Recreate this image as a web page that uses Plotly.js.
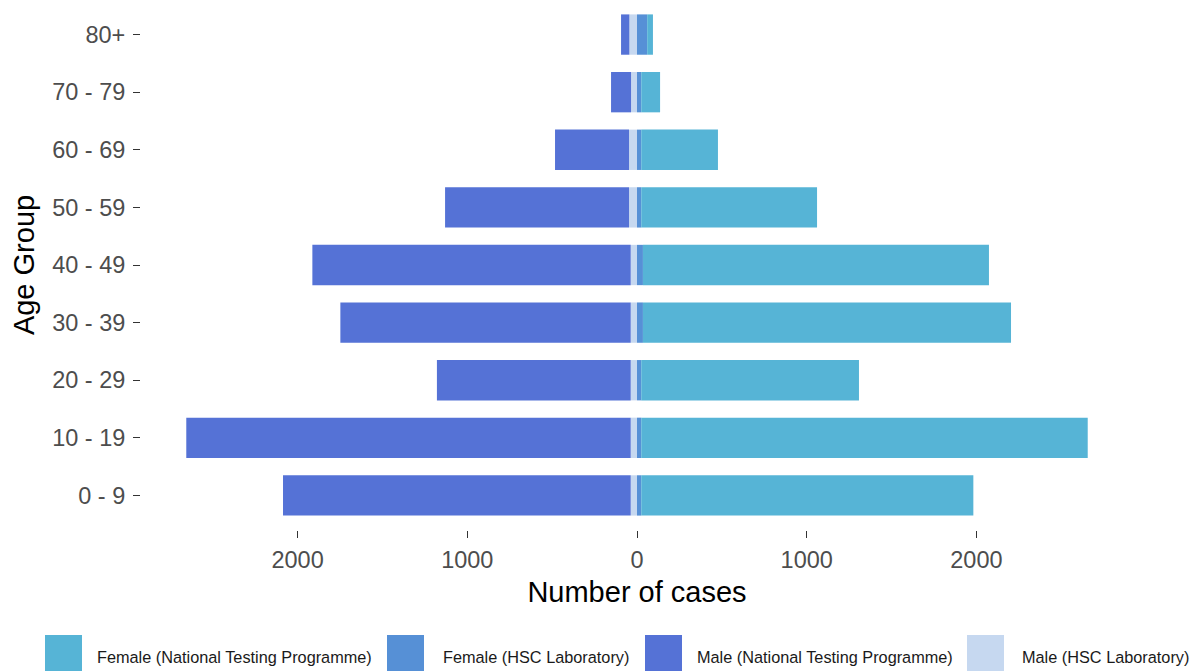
<!DOCTYPE html>
<html>
<head>
<meta charset="utf-8">
<script src="https://cdn.plot.ly/plotly-3.0.1.min.js"></script>
<style>
  html, body { margin: 0; padding: 0; background: #ffffff; }
  #chart { width: 1201px; height: 671px; }
</style>
</head>
<body>
<div id="chart"></div>
<script>
// ---- Data ----
const ageGroups = ['0 - 9', '10 - 19', '20 - 29', '30 - 39', '40 - 49', '50 - 59', '60 - 69', '70 - 79', '80+'];
const maleNTP   = [2049, 2619, 1142, 1711, 1876, 1084, 436, 118, 49];
const maleHSC   = [37, 37, 37, 37, 37, 47, 47, 35, 45];
const femaleNTP = [1957, 2631, 1283, 2169, 2039, 1036, 452, 111, 34];
const femaleHSC = [25, 25, 25, 35, 35, 25, 25, 25, 60];
const xTickVals = [-2000, -1000, 0, 1000, 2000];
const xTickText = ['2000', '1000', '0', '1000', '2000'];
const seriesNames = ['Female (National Testing Programme)', 'Female (HSC Laboratory)', 'Male (National Testing Programme)', 'Male (HSC Laboratory)'];

// ---- Styles ----
const colors = {
  femaleNTP: '#56B4D6',
  femaleHSC: '#5690D6',
  maleNTP:   '#5572D6',
  maleHSC:   '#C6D8F0'
};
const legendColors = [colors.femaleNTP, colors.femaleHSC, colors.maleNTP, colors.maleHSC];
const FONT = '"Liberation Sans", Arial, sans-serif';

const W = 1201, H = 671;
const M = { l: 141, r: 68, t: 0, b: 141 };
const plotW = W - M.l - M.r;
const plotH = H - M.t - M.b;
const pxToPaperX = px => (px - M.l) / plotW;
const pxToPaperY = py => 1 - (py - M.t) / plotH;

function bar(name, xs, color) {
  return {
    type: 'bar',
    orientation: 'h',
    name: name,
    y: ageGroups,
    x: xs,
    width: 0.7,
    marker: { color: color, line: { width: 0 } },
    showlegend: false,
    hoverinfo: 'name+y'
  };
}

const traces = [
  bar(seriesNames[3], maleHSC.map(v => -v), colors.maleHSC),
  bar(seriesNames[2], maleNTP.map(v => -v), colors.maleNTP),
  bar(seriesNames[1], femaleHSC, colors.femaleHSC),
  bar(seriesNames[0], femaleNTP, colors.femaleNTP)
];

// ---- Custom legend (large keys as in the reference) ----
const legendKeyX = [45, 387, 645, 967];
const legendTextX = [95, 441, 695, 1020];
const keySize = 37, keyTop = 635, legendTextY = 657;
const shapes = [];
const annotations = [];
seriesNames.forEach((nm, i) => {
  shapes.push({
    type: 'rect', xref: 'paper', yref: 'paper',
    x0: pxToPaperX(legendKeyX[i]), x1: pxToPaperX(legendKeyX[i] + keySize),
    y0: pxToPaperY(keyTop + keySize), y1: pxToPaperY(keyTop),
    fillcolor: legendColors[i], line: { width: 0 }
  });
  annotations.push({
    xref: 'paper', yref: 'paper',
    x: pxToPaperX(legendTextX[i]), y: pxToPaperY(legendTextY),
    xanchor: 'left', yanchor: 'middle',
    text: nm, showarrow: false,
    font: { family: FONT, size: 16.3, color: '#1a1a1a' }
  });
});

const xHalf = (plotW / 2) / 0.1697;

const layout = {
  width: W, height: H,
  margin: M,
  paper_bgcolor: '#ffffff',
  plot_bgcolor: '#ffffff',
  barmode: 'relative',
  bargap: 0.3,
  showlegend: false,
  font: { family: FONT, color: '#4D4D4D' },
  xaxis: {
    range: [-xHalf, xHalf],
    tickvals: xTickVals,
    ticktext: xTickText,
    ticks: 'outside', ticklen: 7, tickwidth: 1, tickcolor: '#333333',
    tickfont: { family: FONT, size: 23.5, color: '#4D4D4D' },
    showgrid: false, zeroline: false, showline: false,
    ticklabelstandoff: 2,
    title: { text: 'Number of cases', font: { family: FONT, size: 29, color: '#000000' }, standoff: 9 },
    fixedrange: true
  },
  yaxis: {
    type: 'category',
    categoryorder: 'array', categoryarray: ageGroups,
    range: [-0.6, 8.6],
    ticks: 'outside', ticklen: 7, tickwidth: 1, tickcolor: '#333333',
    tickfont: { family: FONT, size: 23.5, color: '#4D4D4D' },
    showgrid: false, zeroline: false, showline: false,
    ticklabelstandoff: 3,
    title: { text: 'Age Group', font: { family: FONT, size: 29, color: '#000000' }, standoff: 8 },
    fixedrange: true
  },
  shapes: shapes,
  annotations: annotations
};

Plotly.newPlot('chart', traces, layout, { staticPlot: true, displayModeBar: false });
</script>
</body>
</html>
